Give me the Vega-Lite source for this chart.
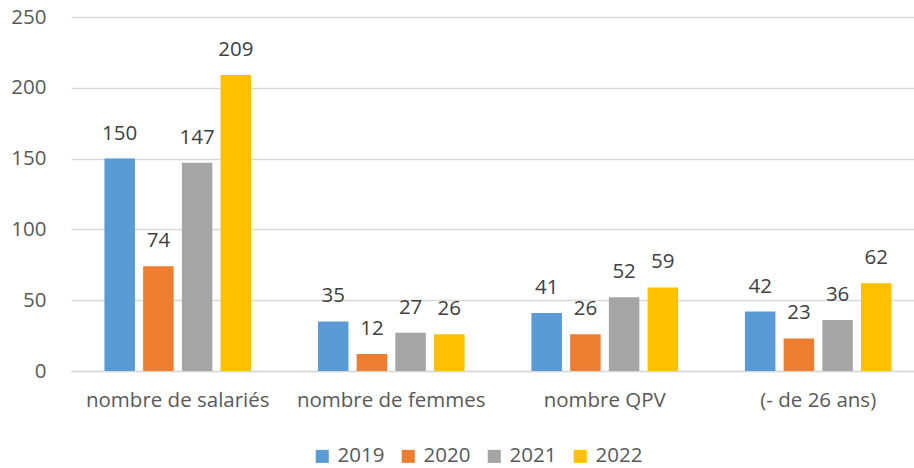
{
  "$schema": "https://vega.github.io/schema/vega-lite/v6.json",
  "width": 854,
  "height": 354,
  "autosize": {"type": "none"},
  "padding": {"left": 71, "top": 17, "right": 0, "bottom": 97},
  "background": "white",
  "config": {
    "view": {"stroke": null},
    "font": "Open Sans",
    "text": {"font": "Open Sans"}
  },
  "data": {
    "values": [
      {"cat": "nombre de salariés", "year": "2019", "value": 150},
      {"cat": "nombre de salariés", "year": "2020", "value": 74},
      {"cat": "nombre de salariés", "year": "2021", "value": 147},
      {"cat": "nombre de salariés", "year": "2022", "value": 209},
      {"cat": "nombre de femmes", "year": "2019", "value": 35},
      {"cat": "nombre de femmes", "year": "2020", "value": 12},
      {"cat": "nombre de femmes", "year": "2021", "value": 27},
      {"cat": "nombre de femmes", "year": "2022", "value": 26},
      {"cat": "nombre QPV", "year": "2019", "value": 41},
      {"cat": "nombre QPV", "year": "2020", "value": 26},
      {"cat": "nombre QPV", "year": "2021", "value": 52},
      {"cat": "nombre QPV", "year": "2022", "value": 59},
      {"cat": "(- de 26 ans)", "year": "2019", "value": 42},
      {"cat": "(- de 26 ans)", "year": "2020", "value": 23},
      {"cat": "(- de 26 ans)", "year": "2021", "value": 36},
      {"cat": "(- de 26 ans)", "year": "2022", "value": 62}
    ]
  },
  "encoding": {
    "x": {
      "field": "cat",
      "type": "nominal",
      "sort": ["nombre de salariés", "nombre de femmes", "nombre QPV", "(- de 26 ans)"],
      "scale": {"paddingInner": 0, "paddingOuter": 0},
      "axis": {
        "title": null,
        "labelAngle": 0,
        "labelFontSize": 20.5,
        "labelColor": "#595959",
        "labelPadding": 19,
        "labelLimit": 400,
        "ticks": false,
        "domainColor": "#D9D9D9",
        "domainWidth": 1.3,
        "labelFont": "Open Sans"
      }
    },
    "xOffset": {
      "field": "year",
      "type": "nominal",
      "scale": {"paddingInner": 0.212, "paddingOuter": 0.864}
    },
    "y": {
      "field": "value",
      "type": "quantitative",
      "scale": {"domain": [0, 250]},
      "axis": {
        "title": null,
        "values": [0, 50, 100, 150, 200, 250],
        "labelFontSize": 20.5,
        "labelColor": "#595959",
        "labelPadding": 25,
        "ticks": false,
        "domain": false,
        "gridColor": "#D9D9D9",
        "gridWidth": 1.3,
        "labelFont": "Open Sans"
      }
    }
  },
  "layer": [
    {
      "mark": {"type": "bar"},
      "encoding": {
        "color": {
          "field": "year",
          "type": "nominal",
          "scale": {
            "domain": ["2019", "2020", "2021", "2022"],
            "range": ["#5B9BD5", "#ED7D31", "#A5A5A5", "#FFC000"]
          },
          "legend": {
            "title": null,
            "orient": "none",
            "direction": "horizontal",
            "legendX": 241,
            "legendY": 429,
            "symbolType": "square",
            "symbolSize": 170,
            "symbolStrokeWidth": 0,
            "labelFontSize": 20.5,
            "labelColor": "#595959",
            "labelFont": "Open Sans",
            "labelOffset": 5,
            "labelLimit": 300,
            "columnPadding": 13
          }
        }
      }
    },
    {
      "mark": {"type": "text", "baseline": "alphabetic", "dy": -19, "fontSize": 20.5, "color": "#404040"},
      "encoding": {
        "text": {"field": "value", "type": "quantitative"}
      }
    }
  ]
}
